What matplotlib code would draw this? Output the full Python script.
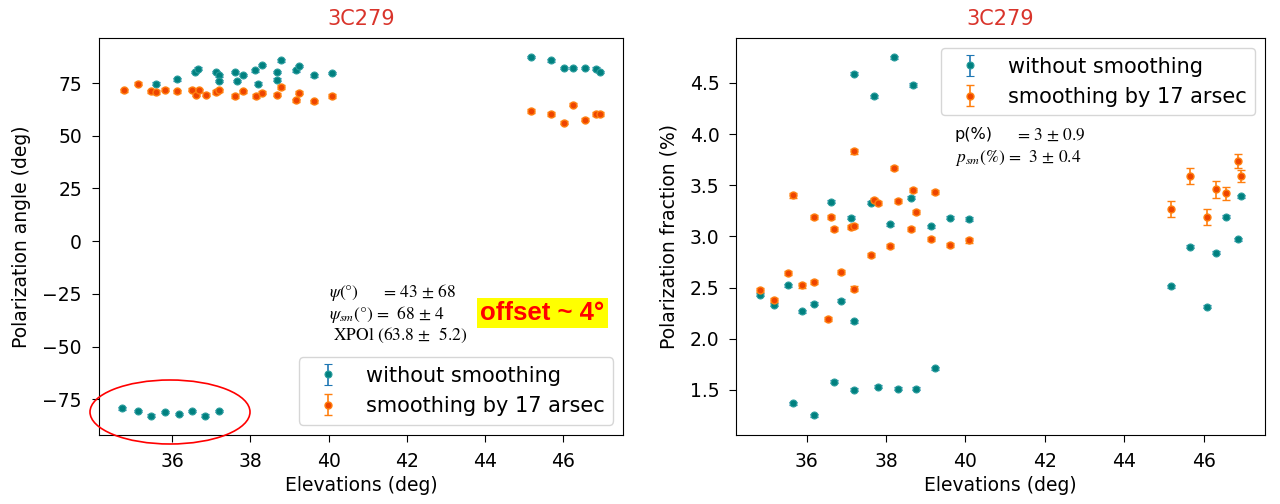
import matplotlib
matplotlib.use("Agg")
import matplotlib.pyplot as plt
from matplotlib.patches import Ellipse

plt.rcParams.update({
    "font.family": ["DejaVu Sans"],
    "mathtext.fontset": "stix",
    "font.size": 12,
})

teal = "#00807f"
teal_edge = "#2a9d9d"
blue_bar = "#1f77b4"
orange_face = "#ee4400"
orange_edge = "#ff7f0e"

# ---- left panel: polarization angle (deg) ----
ang_x_raw = [35.59, 36.13, 36.58, 36.66, 37.13, 37.19, 37.19, 37.61, 37.66, 37.82,
             38.13, 38.19, 38.30, 38.68, 38.68, 38.79, 39.16, 39.24, 39.63, 40.08,
             34.73, 35.14, 35.46, 35.81, 36.18, 36.52, 36.85, 37.21,
             45.17, 45.67, 46.02, 46.25, 46.56, 46.83, 46.92]
ang_y_raw = [74.7, 76.7, 80.2, 81.8, 80.2, 78.6, 75.9, 80.2, 75.9, 78.9,
             81.0, 74.7, 83.6, 80.2, 76.6, 85.7, 81.0, 83.0, 78.6, 79.7,
             -79.3, -80.5, -82.8, -81.0, -82.1, -80.5, -82.8, -80.5,
             87.3, 85.7, 82.2, 82.2, 82.2, 81.8, 80.2]
ang_err_raw = [0.6] * len(ang_x_raw)

ang_x_sm = [34.76, 35.13, 35.45, 35.59, 35.81, 36.13, 36.52, 36.61, 36.69, 36.87, 37.13,
            37.21, 37.61, 37.80, 38.15, 38.30, 38.68, 38.79, 39.16, 39.24, 39.63, 40.08,
            45.17, 45.67, 46.02, 46.25, 46.56, 46.83, 46.92]
ang_y_sm = [71.5, 74.7, 71.0, 70.7, 71.8, 71.0, 71.8, 69.5, 71.5, 69.5, 70.7,
            71.5, 68.9, 71.0, 68.9, 70.4, 69.5, 73.1, 66.8, 70.4, 66.3, 68.9,
            61.8, 60.3, 56.2, 64.7, 57.7, 60.3, 60.3]
ang_err_sm = [0.8] * len(ang_x_sm)

# ---- right panel: polarization fraction (%) ----
frac_x_raw = [34.83, 35.18, 35.54, 35.66, 35.88, 36.20, 36.20, 36.62, 36.68, 36.87,
              37.12, 37.20, 37.20, 37.20, 37.69, 37.61, 37.79, 38.21, 38.11, 38.30,
              38.64, 38.68, 38.75, 39.13, 39.23, 39.60, 40.08,
              45.18, 45.64, 46.07, 46.30, 46.56, 46.85, 46.94]
frac_y_raw = [2.43, 2.33, 2.52, 1.37, 2.27, 2.34, 1.25, 3.34, 1.58, 2.37,
              3.18, 4.59, 2.17, 1.50, 4.37, 3.33, 1.53, 4.75, 3.12, 1.51,
              3.38, 4.48, 1.51, 3.10, 1.71, 3.18, 3.17,
              2.51, 2.90, 2.31, 2.84, 3.19, 2.97, 3.39]
frac_err_raw = [0.015] * len(frac_x_raw)

frac_x_sm = [34.83, 35.18, 35.54, 35.66, 35.88, 36.20, 36.20, 36.54, 36.62, 36.68,
             36.87, 37.12, 37.20, 37.20, 37.20, 37.63, 37.69, 37.79, 38.11, 38.21,
             38.30, 38.68, 38.64, 38.75, 39.13, 39.23, 39.60, 40.08,
             45.18, 45.64, 46.07, 46.30, 46.56, 46.85, 46.94]
frac_y_sm = [2.48, 2.38, 2.64, 3.40, 2.52, 2.55, 3.19, 2.19, 3.19, 3.07,
             2.65, 3.09, 3.83, 3.10, 2.49, 2.82, 3.36, 3.33, 2.91, 3.67,
             3.35, 3.45, 3.07, 3.24, 2.97, 3.43, 2.92, 2.96,
             3.27, 3.59, 3.19, 3.46, 3.42, 3.74, 3.59]
frac_err_sm = [0.02] * 28 + [0.08, 0.08, 0.08, 0.08, 0.06, 0.07, 0.06]

labels = ["without smoothing", "smoothing by 17 arsec"]

fig = plt.figure(figsize=(12.8, 5.04), dpi=100)
ax1 = fig.add_axes([0.077, 0.137, 0.410, 0.788])
ax2 = fig.add_axes([0.575, 0.137, 0.4135, 0.788])


def draw(ax, x1, y1, e1, x2, y2, e2):
    ax.errorbar(x1, y1, yerr=e1, fmt="o", ms=5, mfc=teal, mec=teal_edge, mew=0.8,
                ecolor=blue_bar, elinewidth=1.2, capsize=3, label=labels[0])
    ax.errorbar(x2, y2, yerr=e2, fmt="o", ms=5, mfc=orange_face, mec=orange_edge, mew=1.0,
                ecolor=orange_edge, elinewidth=1.2, capsize=3, label=labels[1])
    ax.set_title("3C279", color="#d9342b", fontsize=15, pad=9)
    ax.set_xlabel("Elevations (deg)", fontsize=13.5)
    ax.set_xticks([36, 38, 40, 42, 44, 46])
    ax.tick_params(labelsize=13.5, length=5, pad=7)


draw(ax1, ang_x_raw, ang_y_raw, ang_err_raw, ang_x_sm, ang_y_sm, ang_err_sm)
ax1.set_ylabel("Polarization angle (deg)", fontsize=13.5, labelpad=8)
ax1.set_yticks([-75, -50, -25, 0, 25, 50, 75])
ax1.set_yticklabels(["\u221275", "\u221250", "\u221225", "0", "25", "50", "75"])
ax1.legend(loc="lower right", fontsize=15)

ax1.text(0.44, 0.385,
         "$\\psi(°)$      = 43 $\\pm$ 68\n$\\psi_{sm}(°)$ =  68 $\\pm$ 4\n XPOl (63.8 $\\pm$  5.2)",
         transform=ax1.transAxes, fontsize=12.5, family="STIXGeneral", va="top",
         linespacing=1.05)
ax1.text(0.846, 0.307, "offset ~ 4°", transform=ax1.transAxes, fontsize=18.5,
         family=["Liberation Sans", "DejaVu Sans"], weight="bold", color="red",
         ha="center", va="center",
         bbox=dict(boxstyle="square,pad=0.12", fc="yellow", ec="none"))

fig.add_artist(Ellipse((170 / 1280, 1 - 412 / 504), 160 / 1280, 64 / 504,
                       transform=fig.transFigure, fill=False, ec="red", lw=1.2))

draw(ax2, frac_x_raw, frac_y_raw, frac_err_raw, frac_x_sm, frac_y_sm, frac_err_sm)
ax2.set_ylabel("Polarization fraction (%)", fontsize=13.5, labelpad=8)
ax2.legend(loc="upper right", fontsize=15)
ax2.text(0.413, 0.775, "p(%)", transform=ax2.transAxes, fontsize=11.5, va="top")
ax2.text(0.531, 0.775, "= 3 $\\pm$ 0.9", transform=ax2.transAxes, fontsize=12.5,
         family="STIXGeneral", va="top")
ax2.text(0.413, 0.722, "$p_{sm}(\\%)$ =  3 $\\pm$ 0.4", transform=ax2.transAxes,
         fontsize=12.5, family="STIXGeneral", va="top")

fig.savefig("out.png", dpi=100)
